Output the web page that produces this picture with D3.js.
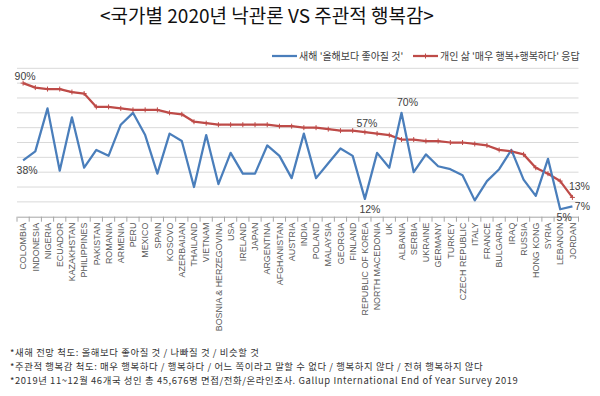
<!DOCTYPE html>
<meta charset="utf-8">
<style>
  body { margin: 0; background: #fff; }
  .grid line { stroke: #d9d9d9; stroke-width: 1px; }
  .line { fill: none; stroke-width: 2.25px; stroke-linejoin: round; }
  .lbl { font-family: "Liberation Sans", Arial, sans-serif; font-size: 10.5px; fill: #404040; }
  .cat { font-family: "Liberation Sans", Arial, sans-serif; font-size: 8.9px; fill: #595959; }
  .kr { font-family: "Noto Sans CJK KR", sans-serif; }
</style>

<body>
  <script src="https://cdn.jsdelivr.net/npm/d3@7/dist/d3.min.js"></script>
  <script>

    var countries = ["COLOMBIA", "INDONESIA", "NIGERIA", "ECUADOR", "KAZAKHSTAN", "PHILIPPINES", "PAKISTAN",
      "ROMANIA", "ARMENIA", "PERU", "MEXICO", "SPAIN", "KOSOVO", "AZERBAIJAN", "THAILAND", "VIETNAM",
      "BOSNIA & HERZEGOVINA", "USA", "IRELAND", "JAPAN", "ARGENTINA", "AFGHANISTAN", "AUSTRIA", "INDIA",
      "POLAND", "MALAYSIA", "GEORGIA", "FINLAND", "REPUBLIC OF KOREA", "NORTH MACEDONIA", "UK", "ALBANIA",
      "SERBIA", "UKRAINE", "GERMANY", "TURKEY", "CZECH REPUBLIC", "ITALY", "FRANCE", "BULGARIA", "IRAQ",
      "RUSSIA", "HONG KONG", "SYRIA", "LEBANON", "JORDAN"]

    // 새해 '올해보다 좋아질 것' (%)
    var optimism = [38, 44, 73, 31, 67, 33, 45, 41, 62, 70, 55, 29, 56, 51, 20, 55, 22, 43, 29, 29, 48, 41, 26,
      56, 26, 36, 46, 41, 12, 43, 33, 70, 30, 42, 34, 32, 28, 11, 24, 32, 45, 25, 14, 39, 5, 7]

    // 개인 삶 '매우 행복+행복하다' (%)
    var happiness = [90, 87, 86, 86, 84, 83, 74, 74, 73, 72, 72, 72, 70, 69, 64, 63, 62, 62, 62, 62, 62, 61, 61,
      60, 60, 59, 58, 58, 57, 56, 55, 52, 52, 51, 51, 50, 50, 49, 48, 45, 44, 42, 33, 29, 24, 13]

    var yTicks = [0, 10, 20, 30, 40, 50, 60, 70, 80, 90, 100]

    var title = "<국가별  2020년  낙관론  VS  주관적  행복감>"
    var legendNames = ["새해 '올해보다 좋아질 것'", "개인 삶 '매우 행복+행복하다' 응답"]
    var notes = [
      "*새해 전망 척도: 올해보다 좋아질 것 / 나빠질 것 / 비슷할 것",
      "*주관적 행복감 척도: 매우 행복하다 / 행복하다 / 어느 쪽이라고 말할 수 없다 / 행복하지 않다 / 전혀 행복하지 않다",
      "*2019년 11~12월 46개국 성인 총 45,676명 면접/전화/온라인조사. Gallup International End of Year Survey 2019"
    ]

    // which points get a value label: [series, index]
    var labelled = [["h", 0], ["o", 0], ["h", 28], ["o", 31], ["o", 28], ["h", 45], ["o", 45], ["o", 44]]

    var blue = "#4a7ebb", red = "#be4b48"
    var width = 600, height = 396

    var x = d3.scaleBand().domain(countries).range([17, 578.5])
    var y = d3.scaleLinear().domain([0, 100]).range([216.7, 68.3])
    var cx = d => x(d) + x.bandwidth() / 2

    var svg = d3.select("body").append("svg")
      .attr("width", width)
      .attr("height", height)

    svg.append("text")
      .attr("class", "kr")
      .attr("x", 267).attr("y", 23)
      .attr("text-anchor", "middle")
      .style("font-size", "19px").style("font-weight", 400).style("fill", "#111")
      .text(title)

    // gridlines
    svg.append("g").attr("class", "grid")
      .selectAll("line").data(yTicks.slice(1)).join("line")
      .attr("x1", x.range()[0]).attr("x2", x.range()[1])
      .attr("y1", d => y(d)).attr("y2", d => y(d))

    // category axis
    var xAxis = svg.append("g")
      .attr("transform", "translate(0," + y(0) + ")")
      .call(d3.axisBottom(x).tickSize(0).tickFormat(""))
    xAxis.select(".domain").attr("stroke", "#a6a6a6")
    xAxis.selectAll(".tk").data(countries.concat([null])).join("line")
      .attr("class", "tk")
      .attr("x1", (d, i) => x.range()[0] + i * x.step())
      .attr("x2", (d, i) => x.range()[0] + i * x.step())
      .attr("y1", 0).attr("y2", 5)
      .attr("stroke", "#a6a6a6")

    svg.append("g").selectAll("text").data(countries).join("text")
      .attr("class", "cat")
      .attr("transform", d => "translate(" + (cx(d) + 3.2) + "," + (y(0) + 6) + ") rotate(-90)")
      .attr("text-anchor", "end")
      .text(d => d)

    var line = d3.line()
      .x((d, i) => cx(countries[i]))
      .y(d => y(d))

    svg.append("path").datum(happiness)
      .attr("class", "line").attr("stroke", red).attr("d", line)
    svg.append("path").datum(optimism)
      .attr("class", "line").attr("stroke", blue).attr("d", line)

    // plus markers on the red line
    svg.append("g").selectAll("path").data(happiness).join("path")
      .attr("d", (d, i) => {
        var px = cx(countries[i]), py = y(d)
        return "M" + (px - 2.5) + "," + py + "H" + (px + 2.5) + "M" + px + "," + (py - 2.5) + "V" + (py + 2.5)
      })
      .attr("stroke", red).attr("stroke-width", 1)

    // value labels
    var offsets = {
      "h0": [2, -3], "o0": [4, 14], "h28": [2, -5], "o31": [6, -7],
      "o28": [5, 14], "h45": [7, -7], "o45": [10, 4], "o44": [4, 12]
    }
    svg.append("g").selectAll("text").data(labelled).join("text")
      .attr("class", "lbl")
      .attr("text-anchor", "middle")
      .attr("x", d => cx(countries[d[1]]) + offsets[d[0] + d[1]][0])
      .attr("y", d => y((d[0] == "h" ? happiness : optimism)[d[1]]) + offsets[d[0] + d[1]][1])
      .text(d => (d[0] == "h" ? happiness : optimism)[d[1]] + "%")

    // legend
    var lg = svg.append("g").attr("transform", "translate(0,56)")
    lg.append("line").attr("x1", 272).attr("x2", 297).attr("stroke", blue).attr("stroke-width", 2.25)
    lg.append("line").attr("x1", 413).attr("x2", 438).attr("stroke", red).attr("stroke-width", 2.25)
    lg.append("path").attr("d", "M425.5,-2.5V2.5")
      .attr("stroke", red).attr("stroke-width", 1)
    lg.selectAll("text").data(legendNames).join("text")
      .attr("class", "kr")
      .attr("x", (d, i) => i ? 440 : 299).attr("y", 3.5)
      .style("font-size", "10px").style("fill", "#404040")
      .text(d => d)

    // footnotes
    svg.append("g").selectAll("text").data(notes).join("text")
      .attr("class", "kr")
      .attr("x", 10).attr("y", (d, i) => 356 + i * 13.9)
      .style("font-size", "9.4px").style("letter-spacing", "0.6px").style("fill", "#333")
      .text(d => d)
  </script>
</body>
